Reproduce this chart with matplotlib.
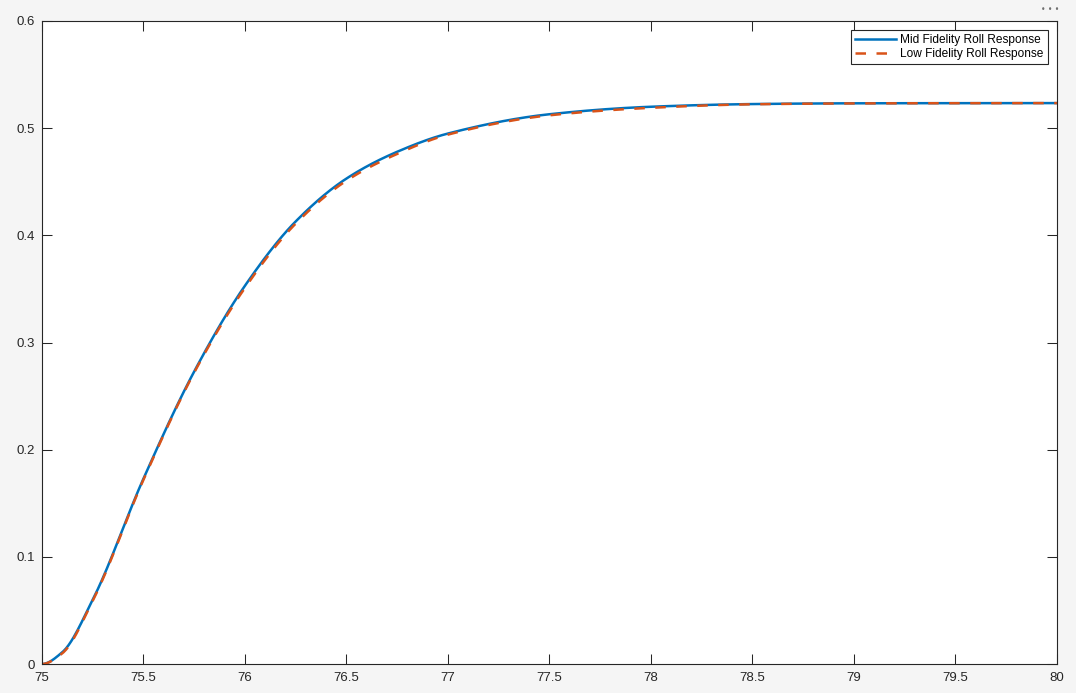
import matplotlib.pyplot as plt
import numpy as np

# roll response (time in s, roll in rad)
t = [75.0, 75.1, 75.25, 75.5, 75.75, 76.0, 76.25, 76.5, 76.75, 77.0,
     77.5, 78.0, 78.5, 79.0, 80.0]
mid_roll = [0.0, 0.011, 0.060, 0.173, 0.273, 0.353, 0.413, 0.453, 0.478, 0.495,
            0.513, 0.520, 0.5225, 0.5232, 0.5234]
low_roll = [0.0, 0.010, 0.059, 0.172, 0.272, 0.351, 0.411, 0.451, 0.476, 0.494,
            0.512, 0.519, 0.5223, 0.5231, 0.5234]

xticks = [75, 75.5, 76, 76.5, 77, 77.5, 78, 78.5, 79, 79.5, 80]
yticks = [0, 0.1, 0.2, 0.3, 0.4, 0.5, 0.6]


def pchip(x, y, xn):
    # monotone cubic through the read points so the curve has no kinks
    x = np.asarray(x, float); y = np.asarray(y, float)
    h = np.diff(x); d = np.diff(y) / h
    m = np.zeros_like(y)
    for k in range(1, len(y) - 1):
        if d[k - 1] * d[k] > 0:
            w1 = 2 * h[k] + h[k - 1]; w2 = h[k] + 2 * h[k - 1]
            m[k] = (w1 + w2) / (w1 / d[k - 1] + w2 / d[k])
    m[0] = 0.0; m[-1] = 0.0
    i = np.clip(np.searchsorted(x, xn) - 1, 0, len(h) - 1)
    s = (xn - x[i]) / h[i]
    h00 = 2 * s**3 - 3 * s**2 + 1; h10 = s**3 - 2 * s**2 + s
    h01 = -2 * s**3 + 3 * s**2; h11 = s**3 - s**2
    return h00 * y[i] + h10 * h[i] * m[i] + h01 * y[i + 1] + h11 * h[i] * m[i + 1]


plt.rcParams['font.family'] = ['Liberation Sans', 'DejaVu Sans']

fig = plt.figure(figsize=(10.76, 6.93), dpi=100, facecolor='#f5f5f5')
ax = fig.add_axes([0.039, 0.0418, 0.9433, 0.9279])

tt = np.linspace(75, 80, 800)
ax.plot(tt, pchip(t, mid_roll, tt), color='#0072BD', lw=1.8,
        label='Mid Fidelity Roll Response')
ax.plot(tt, pchip(t, low_roll, tt), color='#D95319', lw=1.8,
        dashes=(4.2, 4.2), label='Low Fidelity Roll Response')

ax.set_xlim(75, 80)
ax.set_ylim(0, 0.6)
ax.set_xticks(xticks)
ax.set_xticklabels(['75', '75.5', '76', '76.5', '77', '77.5', '78', '78.5', '79', '79.5', '80'])
ax.set_yticks(yticks)
ax.set_yticklabels(['0', '0.1', '0.2', '0.3', '0.4', '0.5', '0.6'])
ax.tick_params(direction='in', length=7, width=0.75, top=True, right=True,
               colors='#262626', labelsize=9.5)
ax.tick_params(axis='x', pad=6)
ax.tick_params(axis='y', pad=5)
for s in ax.spines.values():
    s.set_color('#262626')
    s.set_linewidth(0.8)

leg = ax.legend(loc='upper right', fontsize=8.6, fancybox=False, framealpha=1,
                edgecolor='#262626', handlelength=3.4, borderpad=0.35,
                labelspacing=0.15, handletextpad=0.4, borderaxespad=0.75)
leg.get_frame().set_linewidth(0.8)

# toolbar dots in the top right corner
fig.text(0.9755, 0.987, '\u2022 \u2022 \u2022', color='#707070', fontsize=5.5,
         ha='center', va='center', family='DejaVu Sans')

plt.savefig('out.png', dpi=100, facecolor=fig.get_facecolor())
